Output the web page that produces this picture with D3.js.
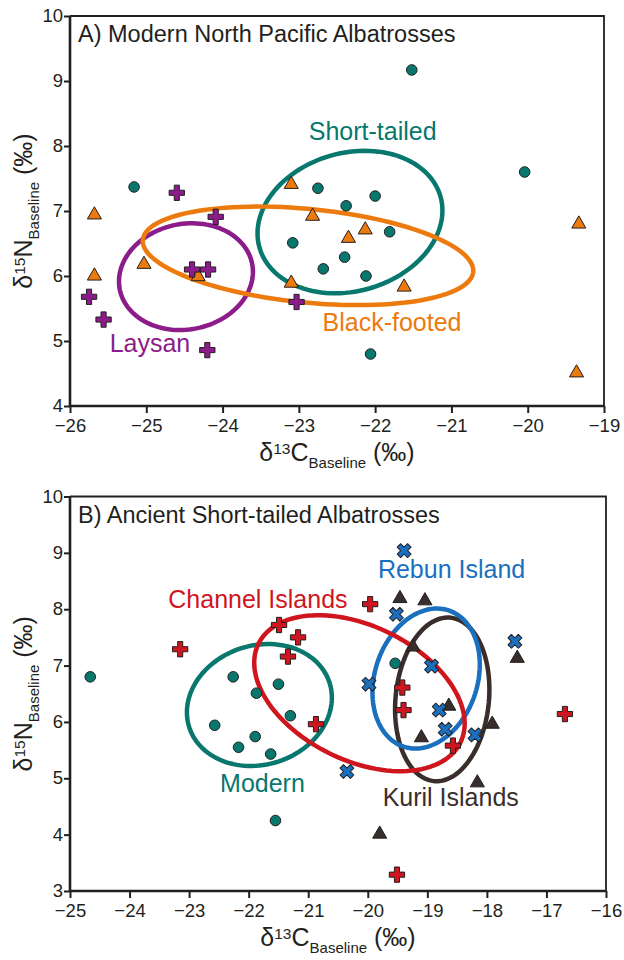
<!DOCTYPE html>
<html>
<head>
<meta charset="utf-8">
<script src="https://cdn.jsdelivr.net/npm/d3@7"></script>
<style>
  body { margin: 0; background: #fff; }
  svg text { font-family: "Liberation Sans", Arial, Helvetica, sans-serif; fill: #231f20; }
</style>
</head>
<body>
<svg id="chart" width="624" height="960"></svg>
<script>
// values are [d13C, d15N]

// A) modern North Pacific albatrosses
const shortTailedA = [
  [-21.52, 9.17], [-25.16, 7.37], [-22.75, 7.35], [-22.38, 7.08], [-22.0, 7.23], [-21.81, 6.68],
  [-23.08, 6.51], [-22.40, 6.29], [-22.68, 6.11], [-22.12, 6.0], [-22.06, 4.8], [-20.04, 7.6]
];
const blackFootedA = [
  [-25.68, 6.94], [-25.68, 6.0], [-25.03, 6.18], [-24.32, 5.99], [-23.10, 7.41], [-22.82, 6.92],
  [-23.10, 5.89], [-22.13, 6.71], [-22.35, 6.58], [-21.62, 5.83], [-19.33, 6.80], [-19.36, 4.51]
];
const laysanA = [
  [-24.60, 7.28], [-24.09, 6.91], [-24.40, 6.10], [-24.19, 6.10], [-25.75, 5.68], [-25.56, 5.33],
  [-24.20, 4.86], [-23.03, 5.60]
];

// B) ancient short-tailed albatrosses
const modernB = [
  [-24.66, 6.80], [-22.26, 6.80], [-21.50, 6.67], [-21.87, 6.51], [-21.30, 6.11], [-22.57, 5.94],
  [-21.89, 5.74], [-22.17, 5.55], [-21.63, 5.43], [-21.55, 4.25], [-19.54, 7.04]
];
const channelB = [
  [-23.15, 7.29], [-21.49, 7.72], [-21.17, 7.50], [-21.34, 7.16], [-20.87, 5.96], [-19.96, 8.09],
  [-19.42, 6.61], [-19.40, 6.21], [-18.57, 5.58], [-16.69, 6.14], [-19.51, 3.29]
];
const rebunB = [
  [-19.39, 9.04], [-19.52, 7.91], [-17.53, 7.43], [-19.98, 6.67], [-18.93, 6.99], [-18.80, 6.21],
  [-18.70, 5.87], [-18.20, 5.77], [-20.35, 5.12]
];
const kurilB = [
  [-19.46, 8.19], [-19.04, 8.15], [-19.24, 7.33], [-17.49, 7.13], [-18.64, 6.28], [-19.10, 5.72],
  [-17.91, 5.96], [-18.16, 4.92], [-19.80, 4.01]
];

// standard ellipses: centre, half extent in x and y, correlation
const ellipseShortTailedA = { cx: -22.33, cy: 6.83, sx: 1.212, sy: 1.096, r: 0.16 };
const ellipseBlackFootedA = { cx: -22.88, cy: 6.31, sx: 2.166, sy: 0.758, r: -0.30 };
const ellipseLaysanA = { cx: -24.48, cy: 5.99, sx: 0.878, sy: 0.821, r: 0.09 };
const ellipseModernB = { cx: -21.82, cy: 6.30, sx: 1.217, sy: 1.082, r: 0.12 };
const ellipseChannelB = { cx: -20.14, cy: 6.51, sx: 1.767, sy: 1.384, r: -0.39 };
const ellipseRebunB = { cx: -19.02, cy: 6.77, sx: 0.901, sy: 1.242, r: 0.20 };
const ellipseKurilB = { cx: -18.75, cy: 6.40, sx: 0.792, sy: 1.452, r: 0.12 };

// axis ticks
const xTicksA = [-26, -25, -24, -23, -22, -21, -20, -19];
const yTicksA = [4, 5, 6, 7, 8, 9, 10];
const xTicksB = [-25, -24, -23, -22, -21, -20, -19, -18, -17, -16];
const yTicksB = [3, 4, 5, 6, 7, 8, 9, 10];

// group labels, anchored in data units
const labelsA = [
  { text: "Short-tailed", x: -22.87, y: 8.09, group: "teal" },
  { text: "Black-footed", x: -22.69, y: 5.16, group: "orange" },
  { text: "Laysan", x: -25.48, y: 4.83, group: "purple" }
];
const labelsB = [
  { text: "Channel Islands", x: -23.35, y: 8.03, group: "red" },
  { text: "Rebun Island", x: -19.83, y: 8.56, group: "blue" },
  { text: "Modern", x: -22.48, y: 4.76, group: "teal" },
  { text: "Kuril Islands", x: -19.75, y: 4.50, group: "brown" }
];

const colors = {
  teal: "#08776d",
  orange: "#ec7a0c",
  purple: "#8c1c8a",
  red: "#cf161e",
  blue: "#1a6fbf",
  brown: "#3a2e2c"
};

const svg = d3.select("#chart");

function ellipsePoints(e) {
  let k = Math.sqrt(1 - e.r * e.r);
  return d3.range(0, 121).map((i) => {
    let t = (i / 120) * 2 * Math.PI;
    return [e.cx + e.sx * Math.cos(t), e.cy + e.sy * (e.r * Math.cos(t) + k * Math.sin(t))];
  });
}

function drawPanel(p) {
  let x = d3.scaleLinear().domain(d3.extent(p.xTicks)).range([p.left, p.right]);
  let y = d3.scaleLinear().domain(d3.extent(p.yTicks)).range([p.bottom, p.top]);
  let g = svg.append("g");

  // thin frame on top and right
  g.append("path")
    .attr("d", `M${p.left},${p.top}H${p.right}V${p.bottom}`)
    .attr("fill", "none")
    .attr("stroke", "#231f20")
    .attr("stroke-width", 1.8);

  let fmt = (d) => (d < 0 ? "\u2212" + Math.abs(d) : "" + d);

  let xAxis = g.append("g")
    .attr("transform", `translate(0,${p.bottom})`)
    .call(d3.axisBottom(x).tickValues(p.xTicks).tickFormat(fmt).tickSize(7).tickPadding(6));
  let yAxis = g.append("g")
    .attr("transform", `translate(${p.left},0)`)
    .call(d3.axisLeft(y).tickValues(p.yTicks).tickFormat(fmt).tickSize(6).tickPadding(1));

  [xAxis, yAxis].forEach((a) => {
    a.select(".domain").attr("stroke", "#231f20").attr("stroke-width", 2.6);
    a.selectAll(".tick line").attr("stroke", "#231f20").attr("stroke-width", 2);
    a.selectAll(".tick text")
      .attr("font-size", 18.5)
      .attr("fill", "#231f20")
      .style("font-family", '"Liberation Sans", Arial, sans-serif');
  });
  xAxis.select(".domain").attr("d", `M${p.left},0H${p.right}`);
  yAxis.select(".domain").attr("d", `M0,${p.bottom}V${p.top}`);
  yAxis.selectAll(".tick text").attr("dy", "0.3em");

  // ellipses below the points
  let line = d3.line().x((d) => x(d[0])).y((d) => y(d[1])).curve(d3.curveLinearClosed);
  p.ellipses.forEach((e) => {
    g.append("path")
      .attr("d", line(ellipsePoints(e.shape)))
      .attr("fill", "none")
      .attr("stroke", colors[e.group])
      .attr("stroke-width", 4.5);
  });

  let shapes = {
    circle: d3.symbol().type(d3.symbolCircle).size(88),
    triangle: d3.symbol().type(d3.symbolTriangle).size(86),
    plus: d3.symbol().type(d3.symbolCross).size(130),
    cross: d3.symbol().type(d3.symbolCross).size(120)
  };

  p.series.forEach((s) => {
    g.append("g")
      .selectAll("path")
      .data(s.values)
      .join("path")
      .attr("transform", (d) => {
        let t = `translate(${x(d[0])},${y(d[1])})`;
        return s.shape === "cross" ? t + " rotate(45)" : t;
      })
      .attr("d", shapes[s.shape]())
      .attr("fill", colors[s.group])
      .attr("stroke", "#231f20")
      .attr("stroke-width", 1)
      .attr("stroke-linejoin", "round");
  });

  g.selectAll("text.group-label")
    .data(p.labels)
    .join("text")
    .attr("class", "group-label")
    .attr("x", (d) => x(d.x))
    .attr("y", (d) => y(d.y))
    .attr("font-size", 25)
    .style("fill", (d) => colors[d.group])
    .text((d) => d.text);

  g.append("text")
    .attr("x", p.left + 8)
    .attr("y", p.top + 26)
    .attr("font-size", 23.5)
    .text(p.title);

  // x axis title: d13C Baseline (permil)
  let xt = g.append("text")
    .attr("x", (p.left + p.right) / 2)
    .attr("y", p.bottom + 55)
    .attr("text-anchor", "middle")
    .attr("font-size", 25);
  xt.append("tspan").text("\u03b4");
  xt.append("tspan").attr("font-size", 15.5).attr("dy", -7).text("13");
  xt.append("tspan").attr("dy", 7).text("C");
  xt.append("tspan").attr("font-size", 15).attr("dy", 7).text("Baseline");
  xt.append("tspan").attr("dy", -7).text(" (\u2030)");

  let yt = g.append("text")
    .attr("transform", `translate(32,${(p.top + p.bottom) / 2}) rotate(-90)`)
    .attr("text-anchor", "middle")
    .attr("font-size", 25);
  yt.append("tspan").text("\u03b4");
  yt.append("tspan").attr("font-size", 15.5).attr("dy", -7).text("15");
  yt.append("tspan").attr("dy", 7).text("N");
  yt.append("tspan").attr("font-size", 15).attr("dy", 7).text("Baseline");
  yt.append("tspan").attr("dy", -7).text(" (\u2030)");
}

drawPanel({
  title: "A) Modern North Pacific Albatrosses",
  left: 70, right: 604, top: 16, bottom: 406,
  xTicks: xTicksA, yTicks: yTicksA,
  ellipses: [
    { shape: ellipseShortTailedA, group: "teal" },
    { shape: ellipseLaysanA, group: "purple" },
    { shape: ellipseBlackFootedA, group: "orange" }
  ],
  series: [
    { values: shortTailedA, shape: "circle", group: "teal" },
    { values: blackFootedA, shape: "triangle", group: "orange" },
    { values: laysanA, shape: "plus", group: "purple" }
  ],
  labels: labelsA
});

drawPanel({
  title: "B) Ancient Short-tailed Albatrosses",
  left: 70, right: 606, top: 496.5, bottom: 891,
  xTicks: xTicksB, yTicks: yTicksB,
  ellipses: [
    { shape: ellipseModernB, group: "teal" },
    { shape: ellipseKurilB, group: "brown" },
    { shape: ellipseRebunB, group: "blue" },
    { shape: ellipseChannelB, group: "red" }
  ],
  series: [
    { values: modernB, shape: "circle", group: "teal" },
    { values: kurilB, shape: "triangle", group: "brown" },
    { values: rebunB, shape: "cross", group: "blue" },
    { values: channelB, shape: "plus", group: "red" }
  ],
  labels: labelsB
});
</script>
</body>
</html>
